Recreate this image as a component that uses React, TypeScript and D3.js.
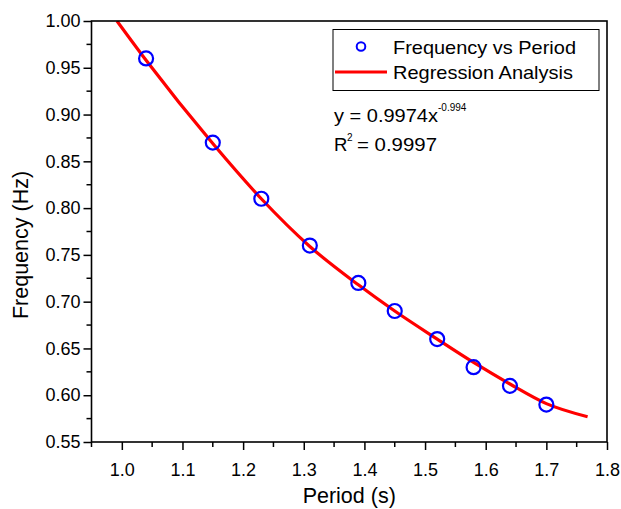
import React, { useEffect, useRef } from "react";
import * as d3 from "d3";

// measured data
const periods = [1.04, 1.15, 1.23, 1.31, 1.39, 1.45, 1.52, 1.58, 1.64, 1.7];
const frequencies = [0.96, 0.87, 0.81, 0.76, 0.72, 0.69, 0.66, 0.63, 0.61, 0.59];
// regression curve as drawn
const fitX = [0.992, 1.04, 1.15, 1.23, 1.31, 1.39, 1.45, 1.52, 1.58, 1.64, 1.7, 1.768];
const fitY = [1.0, 0.958, 0.869, 0.81, 0.759, 0.718, 0.69, 0.66, 0.635, 0.612, 0.591, 0.577];
const xTicks = [1.0, 1.1, 1.2, 1.3, 1.4, 1.5, 1.6, 1.7, 1.8];
const yTicks = [0.55, 0.6, 0.65, 0.7, 0.75, 0.8, 0.85, 0.9, 0.95, 1.0];
const equation = "y = 0.9974x";
const exponent = "-0.994";
const r2Value = "0.9997";

const W = 621;
const H = 509;
const FONT = "Liberation Sans, Arial, sans-serif";

export default function App() {
  const ref = useRef<SVGSVGElement>(null);

  useEffect(() => {
    const svg = d3.select(ref.current);
    svg.selectAll("*").remove();

    const left = 91.5, right = 607, top = 21, bottom = 442;
    const x = d3.scaleLinear().domain([0.95, 1.8]).range([left, right]);
    const y = d3.scaleLinear().domain([0.55, 1.0]).range([bottom, top]);

    svg.append("defs").append("clipPath").attr("id", "plotclip")
      .append("rect").attr("x", left).attr("y", top)
      .attr("width", right - left).attr("height", bottom - top);

    // fit curve
    const line = d3.line<number>()
      .x((d) => x(d))
      .y((d, i) => y(fitY[i]))
      .curve(d3.curveMonotoneX);
    svg.append("path").datum(fitX)
      .attr("d", line)
      .attr("fill", "none")
      .attr("stroke", "#ff0000")
      .attr("stroke-width", 3.2)
      .attr("clip-path", "url(#plotclip)");

    // points
    svg.selectAll("circle.pt").data(periods).enter().append("circle")
      .attr("class", "pt")
      .attr("cx", (d) => x(d))
      .attr("cy", (d, i) => y(frequencies[i]))
      .attr("r", 7)
      .attr("fill", "none")
      .attr("stroke", "#0000ff")
      .attr("stroke-width", 2.2);

    // frame
    svg.append("rect")
      .attr("x", left).attr("y", top)
      .attr("width", right - left).attr("height", bottom - top)
      .attr("fill", "none").attr("stroke", "#000").attr("stroke-width", 1.6);

    // x axis
    const xAxis = d3.axisBottom(x).tickValues(xTicks).tickFormat(d3.format(".1f"))
      .tickSize(8).tickPadding(13);
    const gx = svg.append("g").attr("transform", `translate(0,${bottom})`).call(xAxis);
    gx.select(".domain").remove();
    const xMinor = d3.range(0.95, 1.8, 0.1);
    gx.selectAll("line.minor").data(xMinor).enter().append("line")
      .attr("class", "minor")
      .attr("x1", (d) => x(d)).attr("x2", (d) => x(d))
      .attr("y1", 0).attr("y2", 5).attr("stroke", "#000").attr("stroke-width", 1.5);

    // y axis
    const yAxis = d3.axisLeft(y).tickValues(yTicks).tickFormat(d3.format(".2f"))
      .tickSize(8).tickPadding(3);
    const gy = svg.append("g").attr("transform", `translate(${left},0)`).call(yAxis);
    gy.select(".domain").remove();
    const yMinor = d3.range(0.575, 1.0, 0.05);
    gy.selectAll("line.minor").data(yMinor).enter().append("line")
      .attr("class", "minor")
      .attr("y1", (d) => y(d)).attr("y2", (d) => y(d))
      .attr("x1", 0).attr("x2", -5).attr("stroke", "#000").attr("stroke-width", 1.5);

    svg.selectAll(".tick line").attr("stroke-width", 1.5);
    svg.selectAll(".tick text").attr("font-family", FONT).attr("font-size", 18).attr("fill", "#000");

    // axis titles
    svg.append("text").attr("x", (left + right) / 2).attr("y", 503)
      .attr("text-anchor", "middle").attr("font-family", FONT).attr("font-size", 21.5)
      .text("Period (s)");
    svg.append("text").attr("transform", `translate(28,245) rotate(-90)`)
      .attr("text-anchor", "middle").attr("font-family", FONT).attr("font-size", 21.5)
      .text("Frequency (Hz)");

    // legend
    const lg = svg.append("g");
    lg.append("rect").attr("x", 333).attr("y", 29.5).attr("width", 266).attr("height", 61)
      .attr("fill", "#fff").attr("stroke", "#000").attr("stroke-width", 1);
    lg.append("circle").attr("cx", 361).attr("cy", 46.5).attr("r", 4.3)
      .attr("fill", "none").attr("stroke", "#0000ff").attr("stroke-width", 2);
    lg.append("line").attr("x1", 335).attr("x2", 387).attr("y1", 72).attr("y2", 72)
      .attr("stroke", "#ff0000").attr("stroke-width", 3.2);
    lg.append("text").attr("x", 393).attr("y", 54).attr("font-family", FONT).attr("font-size", 18.5)
      .attr("textLength", 183).attr("lengthAdjust", "spacingAndGlyphs")
      .text("Frequency vs Period");
    lg.append("text").attr("x", 393).attr("y", 79).attr("font-family", FONT).attr("font-size", 18.5)
      .attr("textLength", 180).attr("lengthAdjust", "spacingAndGlyphs")
      .text("Regression Analysis");

    // equation
    svg.append("text").attr("x", 334).attr("y", 122).attr("font-family", FONT).attr("font-size", 18.5)
      .attr("textLength", 104).attr("lengthAdjust", "spacingAndGlyphs")
      .text(equation);
    svg.append("text").attr("x", 438).attr("y", 110.5).attr("font-family", FONT).attr("font-size", 10)
      .text(exponent);
    svg.append("text").attr("x", 334).attr("y", 151).attr("font-family", FONT).attr("font-size", 18.5)
      .text("R");
    svg.append("text").attr("x", 347).attr("y", 141).attr("font-family", FONT).attr("font-size", 10)
      .text("2");
    svg.append("text").attr("x", 357).attr("y", 151).attr("font-family", FONT).attr("font-size", 18.5)
      .attr("textLength", 80).attr("lengthAdjust", "spacingAndGlyphs")
      .text(`= ${r2Value}`);
  }, []);

  return (
    <svg ref={ref} width={W} height={H} style={{ position: "absolute", left: 0, top: 0, background: "#fff" }} />
  );
}
